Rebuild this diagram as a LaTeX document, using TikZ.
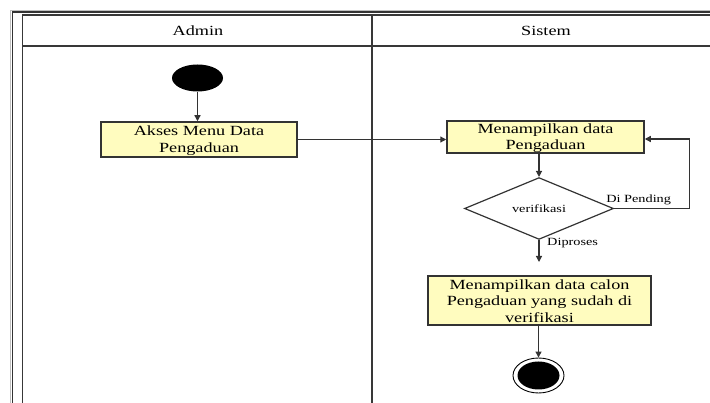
\documentclass[tikz,border=0pt]{standalone}
\usepackage{fontspec}
\setmainfont{Liberation Serif}
\newfontfamily\wideserif[FakeStretch=1.3]{Liberation Serif}
\usetikzlibrary{shapes.geometric,arrows.meta}
\begin{document}
\begin{tikzpicture}[x=1pt,y=-1pt,
  lane/.style={draw=black!78,line width=1.3pt},
  actbox/.style={draw=black!80,line width=1.5pt,fill=yellow!25!white,
    rectangle,inner sep=0pt},
  acttext/.style={inner sep=0pt,align=center,
    font=\wideserif\fontsize{14}{16.5}\selectfont},
  decision/.style={draw=black!80,line width=1.2pt,fill=white,diamond,
    inner sep=0pt,font=\wideserif\fontsize{11}{13}\selectfont},
  flow/.style={draw=black!80,line width=1.2pt,
    -{Triangle[length=6pt,width=6pt]}},
  guard/.style={font=\wideserif\fontsize{11}{13}\selectfont,inner sep=0pt},
  lanehead/.style={font=\wideserif\fontsize{14}{16}\selectfont}]
\useasboundingbox (0,0) rectangle (710,403);
% outer frame with its light halo
\draw[black!25,line width=1pt] (10.5,410) -- (10.5,10.5) -- (720,10.5);
\draw[black!80,line width=1.1pt] (12.3,410) -- (12.3,12) -- (720,12);
% swimlane table
\draw[lane] (22.5,410) -- (22.5,15) -- (720,15);
\draw[lane] (22.5,46) -- (720,46);
\draw[lane] (372,15) -- (372,410);
\node[lanehead] (hadmin) at (198,31) {Admin};
\node[lanehead] (hsistem) at (546,31) {Sistem};
% activity boxes and their texts
\node[ellipse,fill=black,minimum width=51pt,minimum height=27pt,inner sep=0pt] (start) at (197.5,78) {};
\node[actbox,minimum width=196pt,minimum height=35pt] (akses) at (199,139.5) {};
\node[acttext] (aksestext) at ([yshift=-1.2pt]akses.center) {Akses Menu Data\\Pengaduan};
\node[actbox,minimum width=197pt,minimum height=32pt] (tampil) at (545.5,137) {};
\node[acttext] (tampiltext) at ([yshift=-1.2pt]tampil.center) {Menampilkan data\\Pengaduan};
\node[decision,minimum width=149pt,minimum height=47pt] (verif) at (539,208.5) {verifikasi};
\node[actbox,minimum width=223pt,minimum height=49pt] (calon) at (539.5,300.5) {};
\node[acttext] (calontext) at ([yshift=-0.5pt]calon.center) {Menampilkan data calon\\Pengaduan yang sudah di\\verifikasi};
\node[ellipse,draw=black,line width=0.9pt,fill=white,minimum width=51pt,minimum height=35pt,inner sep=0pt] (end) at (538.5,375.5) {};
\fill[black] (end.center) ellipse [x radius=21pt,y radius=14pt];
\coordinate (proses) at (539,262);
% connectors
\draw[flow] (start.south) -- (start.south |- akses.north);
\draw[flow] (akses.east) -- (tampil.west |- akses.east);
\draw[flow] (verif.north |- tampil.south) -- (verif.north);
\draw[flow] (verif.east) -- ++(75,0) |- ([yshift=-2pt]tampil.east);
\draw[flow] (verif.south) -- (proses);
\draw[flow] (calon.south -| end.north) -- (end.north);
% guards
\node[guard,anchor=south west] (pending) at ([xshift=-8pt,yshift=3pt]verif.east) {Di Pending};
\node[guard,anchor=west] (diproses) at (547,243) {Diproses};
\end{tikzpicture}
\end{document}
